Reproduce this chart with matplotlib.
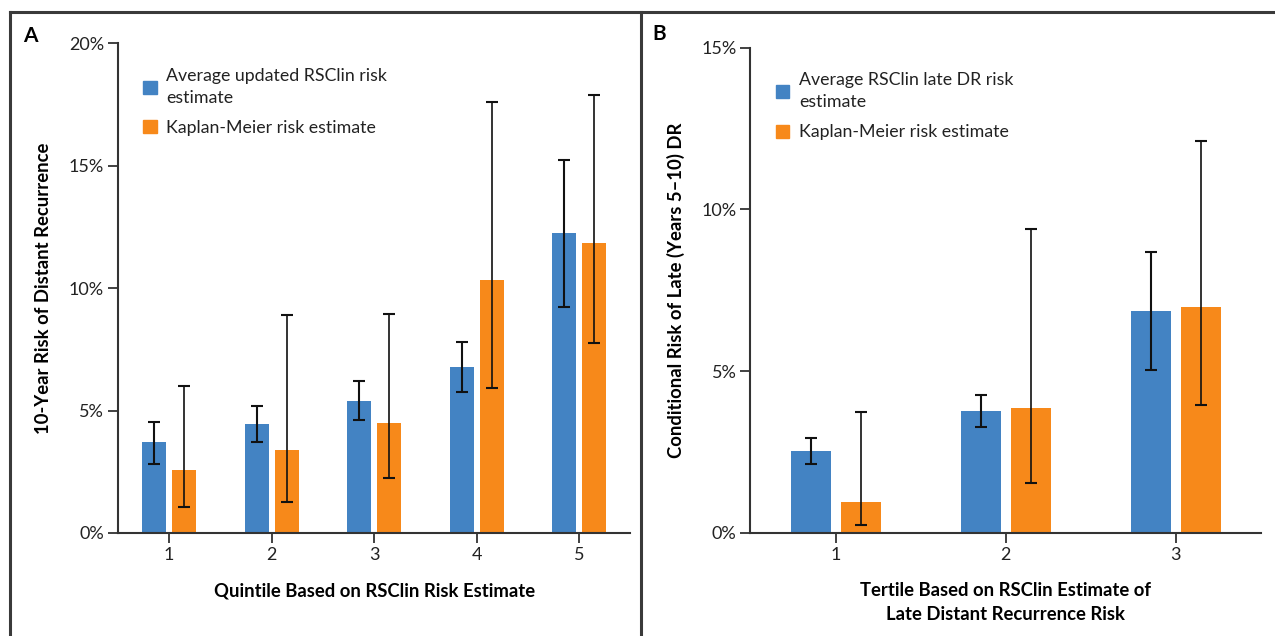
import matplotlib
matplotlib.use("Agg")
import matplotlib.pyplot as plt
from matplotlib.lines import Line2D
from matplotlib.patches import Rectangle
import numpy as np

plt.rcParams['font.family'] = ['Lato', 'DejaVu Sans']

# Panel A data (percent)
quintiles = ["1", "2", "3", "4", "5"]
a_blue = [3.70, 4.47, 5.40, 6.78, 12.24]
a_blue_lo = [2.80, 3.73, 4.62, 5.74, 9.21]
a_blue_hi = [4.55, 5.20, 6.19, 7.79, 15.25]
a_orange = [2.56, 3.37, 4.50, 10.33, 11.83]
a_orange_lo = [1.06, 1.25, 2.23, 5.92, 7.76]
a_orange_hi = [6.02, 8.89, 8.93, 17.62, 17.87]

# Panel B data (percent)
tertiles = ["1", "2", "3"]
b_blue = [2.53, 3.76, 6.87]
b_blue_lo = [2.13, 3.28, 5.05]
b_blue_hi = [2.93, 4.26, 8.69]
b_orange = [0.95, 3.86, 6.97]
b_orange_lo = [0.24, 1.55, 3.96]
b_orange_hi = [3.74, 9.39, 12.13]

a_legend = ["Average updated RSClin risk\nestimate", "Kaplan-Meier risk estimate"]
b_legend = ["Average RSClin late DR risk\nestimate", "Kaplan-Meier risk estimate"]

BLUE = "#4383C3"
ORANGE = "#F7891A"
AXC = "#333333"

fig = plt.figure(figsize=(12.75, 6.36), dpi=100)

def panel(rect, cats, blue, blo, bhi, orange, olo, ohi, ymax, yticks, ylabel, xlabel, legend, letter, letter_pos):
    ax = fig.add_axes(rect)
    x = np.arange(1, len(cats) + 1)
    w = 0.235
    off = 0.147
    blue = np.array(blue); orange = np.array(orange)
    ax.bar(x - off, blue, width=w, color=BLUE, zorder=2)
    ax.bar(x + off, orange, width=w, color=ORANGE, zorder=2)
    ax.errorbar(x - off, blue, yerr=[blue - np.array(blo), np.array(bhi) - blue],
                fmt='none', ecolor='#111111', elinewidth=1.5, capsize=4.5, capthick=1.5, zorder=3)
    ax.errorbar(x + off, orange, yerr=[orange - np.array(olo), np.array(ohi) - orange],
                fmt='none', ecolor='#111111', elinewidth=1.2, capsize=4.5, capthick=1.5, zorder=3)
    ax.set_xlim(0.5, len(cats) + 0.5)
    ax.set_ylim(0, ymax)
    ax.set_xticks(x)
    ax.set_xticklabels(cats)
    ax.set_yticks(yticks)
    ax.set_yticklabels([f"{t}%" for t in yticks])
    for s in ['top', 'right']:
        ax.spines[s].set_visible(False)
    for s in ['left', 'bottom']:
        ax.spines[s].set_color(AXC)
        ax.spines[s].set_linewidth(1.5)
    ax.tick_params(axis='both', direction='out', length=7, width=1.3, color=AXC,
                   labelsize=13, labelcolor='#222222', pad=3)
    ax.set_ylabel(ylabel, fontsize=13.3, fontweight='bold', labelpad=12)
    ax.set_xlabel(xlabel, fontsize=13.3, fontweight='bold', labelpad=14, linespacing=1.45)
    handles = [Rectangle((0, 0), 1, 1, color=BLUE), Rectangle((0, 0), 1, 1, color=ORANGE)]
    leg = ax.legend(handles, legend, loc='upper left', bbox_to_anchor=(0.025, 0.975),
                    frameon=False, fontsize=12.8, handlelength=0.75, handleheight=0.75,
                    handletextpad=0.55, labelspacing=0.8, borderaxespad=0.3)
    for t in leg.get_texts():
        t.set_color('#222222')
        t.set_linespacing(1.45)
    fig.text(letter_pos[0], letter_pos[1], letter, fontsize=15, fontweight='bold', ha='left', va='center')
    return ax

axA = panel([0.0925, 0.162, 0.402, 0.770], quintiles, a_blue, a_blue_lo, a_blue_hi,
            a_orange, a_orange_lo, a_orange_hi, 20, [0, 5, 10, 15, 20],
            "10-Year Risk of Distant Recurrence", "Quintile Based on RSClin Risk Estimate",
            a_legend, "A", (0.018, 0.943))
axB = panel([0.5886, 0.162, 0.4004, 0.763], tertiles, b_blue, b_blue_lo, b_blue_hi,
            b_orange, b_orange_lo, b_orange_hi, 15, [0, 5, 10, 15],
            "Conditional Risk of Late (Years 5\u201310) DR",
            "Tertile Based on RSClin Estimate of\nLate Distant Recurrence Risk",
            b_legend, "B", (0.512, 0.946))

# Frame lines
fig.add_artist(Line2D([10/1275, 1.0], [1 - 12/636, 1 - 12/636], color='#3a3a3a', lw=2.2, transform=fig.transFigure))
fig.add_artist(Line2D([10/1275, 10/1275], [0, 1 - 12/636], color='#3a3a3a', lw=2.2, transform=fig.transFigure))
fig.add_artist(Line2D([641/1275, 641/1275], [0, 1 - 12/636], color='#3a3a3a', lw=2.2, transform=fig.transFigure))

fig.savefig("out.png", dpi=100)
